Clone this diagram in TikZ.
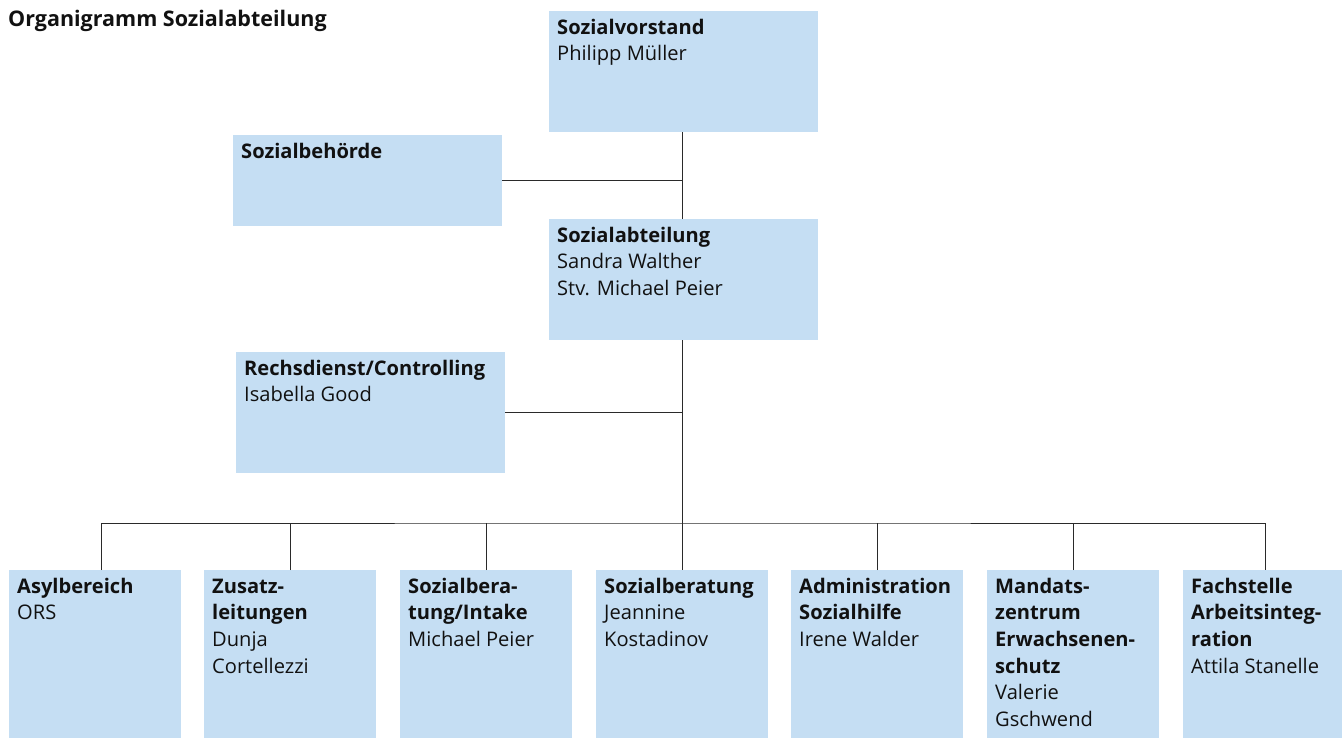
\documentclass[tikz,border=0pt]{standalone}
\usepackage{fontspec}
\setmainfont{Open Sans}
\definecolor{boxblue}{HTML}{C5DEF3}
\definecolor{inkc}{HTML}{111111}
\definecolor{linec}{HTML}{2A2A2A}
% box content: fixed-size top-aligned paragraph, first baseline 23pt below the top
\newcommand{\orgtext}[3]{\parbox[t][#2][t]{#1}{\rule{0pt}{23pt}#3}}
\tikzset{
  unit/.style={fill=boxblue, draw=none, inner xsep=8pt, inner ysep=0pt,
    anchor=north west, text=inkc, font=\fontsize{20.1}{26.6}\selectfont},
  link/.style={draw=linec, line width=1pt},
}
\begin{document}
\begin{tikzpicture}[x=1pt, y=-1pt]
\useasboundingbox (0,0) rectangle (1342,738);

\node[anchor=base west, inner sep=0pt, text=inkc,
  font=\fontsize{21.5}{26.6}\selectfont\bfseries] (title) at (8,27) {Organigramm Sozialabteilung};

% upper hierarchy
\node[unit] (vorstand) at (549,11) {\orgtext{253pt}{121pt}{\textbf{Sozialvorstand}\\Philipp Müller}};
\node[unit] (behoerde) at (233,135) {\orgtext{253pt}{91pt}{\textbf{Sozialbehörde}}};
\node[unit] (abteilung) at (549,219) {\orgtext{253pt}{121pt}{\textbf{Sozialabteilung}\\Sandra Walther\\Stv. Michael Peier}};
\node[unit] (recht) at (236,352) {\orgtext{253pt}{121pt}{\textbf{Rechsdienst/Controlling}\\Isabella Good}};

% departments
\node[unit] (asyl) at (9,570) {\orgtext{156pt}{168pt}{\textbf{Asylbereich}\\ORS}};
\node[unit] (zusatz) at (204,570) {\orgtext{156pt}{168pt}{\textbf{Zusatz-}\\\textbf{leitungen}\\Dunja\\Cortellezzi}};
\node[unit] (intake) at (400,570) {\orgtext{156pt}{168pt}{\textbf{Sozialbera-}\\\textbf{tung/Intake}\\Michael Peier}};
\node[unit] (beratung) at (596,570) {\orgtext{156pt}{168pt}{\textbf{Sozialberatung}\\Jeannine\\Kostadinov}};
\node[unit] (admin) at (791,570) {\orgtext{156pt}{168pt}{\textbf{Administration}\\\textbf{Sozialhilfe}\\Irene Walder}};
\node[unit] (mandat) at (987,570) {\orgtext{156pt}{168pt}{\textbf{Mandats-}\\\textbf{zentrum}\\\textbf{Erwachsenen-}\\\textbf{schutz}\\Valerie\\Gschwend}};
\node[unit] (fach) at (1183,570) {\orgtext{143pt}{168pt}{\textbf{Fachstelle}\\\textbf{Arbeitsinteg-}\\\textbf{ration}\\Attila Stanelle}};

\coordinate (bus) at (682,523);

% trunk and side branches
\path[link] (vorstand.south -| beratung.north) -- (abteilung.north -| beratung.north);
\path[link] (behoerde.east) -- (behoerde.east -| beratung.north);
\path[link] (abteilung.south -| beratung.north) -- (beratung.north);
\path[link] (recht.east) -- (recht.east -| beratung.north);

% bus to departments
\path[link] ([xshift=6pt]asyl.north) |- (bus) -| ([xshift=3pt]fach.north);
\path[link] (zusatz.north) -- (zusatz.north |- bus);
\path[link] (intake.north) -- (intake.north |- bus);
\path[link] (admin.north) -- (admin.north |- bus);
\path[link] (mandat.north) -- (mandat.north |- bus);
\end{tikzpicture}
\end{document}
